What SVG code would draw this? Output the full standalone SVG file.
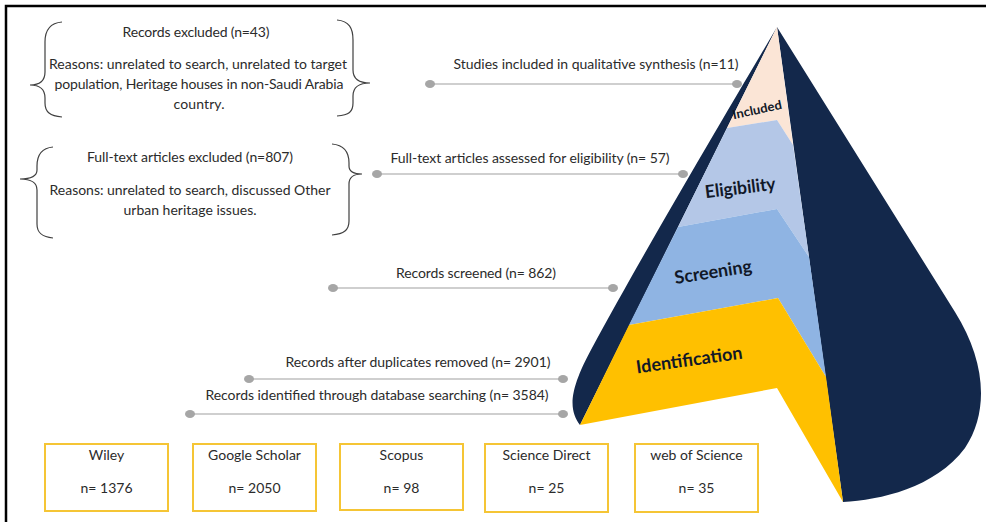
<svg xmlns="http://www.w3.org/2000/svg" width="986" height="522" viewBox="0 0 986 522">
<style>
.t{font-family:Lato,"Open Sans","Liberation Sans",sans-serif;font-size:14px;fill:#2b2b2b;text-anchor:middle}
.lbl{font-family:Lato,"Open Sans","Liberation Sans",sans-serif;font-weight:bold;fill:#111827;text-anchor:middle}
.brace{fill:none;stroke:#404040;stroke-width:1.2}
.conn{stroke:#BFBFBF;stroke-width:1.5}
.dot{fill:#A6A6A6}
.box{fill:#fff;stroke:#F5C535;stroke-width:2}
</style>
<rect width="986" height="522" fill="#fff"/>
<path d="M6,524 L6,6 L990,6" fill="none" stroke="#000" stroke-width="2.5"/>

<g id="cone">
  <path d="M777,27 C725,115 645,250 592,348 C568,392 569,410 580,425 Z" fill="#13284B"/>
  <path d="M777,27 L955,312 C985,360 990,410 965,448 C935,488 880,500 843,502 Z" fill="#13284B"/>
  <polygon points="777,27 727,128 777,120 793,145" fill="#FBE5D6"/>
  <polygon points="727,128 777,120 793,145 809,257 777,209 678,227" fill="#B4C7E7"/>
  <polygon points="678,227 777,209 809,257 826,377 778,298 629,325" fill="#8FB4E3"/>
  <polygon points="629,325 778,298 826,377 843,502 777,388 580,425" fill="#FFC000"/>
  <text class="lbl" font-size="12.5" transform="translate(758,114) rotate(-12)" textLength="50" lengthAdjust="spacingAndGlyphs">Included</text>
  <text class="lbl" font-size="18" transform="translate(741,194) rotate(-7)" textLength="71" lengthAdjust="spacingAndGlyphs">Eligibility</text>
  <text class="lbl" font-size="18" transform="translate(714,278) rotate(-9)" textLength="78" lengthAdjust="spacingAndGlyphs">Screening</text>
  <text class="lbl" font-size="18" transform="translate(690,366) rotate(-8)" textLength="107" lengthAdjust="spacingAndGlyphs">Identification</text>
</g>

<g id="excluded-records">
  <path class="brace" d="M62,22 C50,23 45,30 45,42 L45,72 C45,80 40,85 30,85 C40,85 45,90 45,98 L45,103 C45,112 50,116 62,117"/>
  <path class="brace" d="M337,20 C349,21 353,28 353,40 L353,70 C353,78 358,83 370,83 C358,83 353,88 353,96 L353,103 C353,112 349,115 337,116"/>
  <text class="t" x="196" y="37" textLength="147">Records excluded (n=43)</text>
  <text class="t" x="198" y="69" textLength="298">Reasons: unrelated to search, unrelated to target</text>
  <text class="t" x="199" y="89" textLength="289">population, Heritage houses in non-Saudi Arabia</text>
  <text class="t" x="199" y="109" textLength="51">country.</text>
</g>

<g id="excluded-fulltext">
  <path class="brace" d="M53,147 C42,148 37,155 37,166 L37,170 C37,176 32,179 20,179 C32,179 37,183 37,190 L37,224 C37,233 42,237 53,238"/>
  <path class="brace" d="M332,144 C344,145 349,152 349,163 L349,166 C349,171 353,174 362,174 C353,174 349,178 349,184 L349,221 C349,230 344,234 332,235"/>
  <text class="t" x="190" y="162" textLength="206">Full-text articles excluded (n=807)</text>
  <text class="t" x="190" y="195" textLength="281">Reasons: unrelated to search, discussed Other</text>
  <text class="t" x="190" y="215" textLength="133">urban  heritage issues.</text>
</g>

<g id="connectors">
  <line class="conn" x1="430" y1="84" x2="737" y2="84"/>
  <ellipse class="dot" cx="430" cy="84" rx="5" ry="4"/>
  <ellipse class="dot" cx="737" cy="84" rx="5" ry="4"/>
  <line class="conn" x1="377" y1="174" x2="683" y2="174"/>
  <ellipse class="dot" cx="377" cy="174" rx="5" ry="4"/>
  <ellipse class="dot" cx="683" cy="174" rx="5" ry="4"/>
  <line class="conn" x1="333" y1="288" x2="613" y2="288"/>
  <ellipse class="dot" cx="333" cy="288" rx="5" ry="4"/>
  <ellipse class="dot" cx="613" cy="288" rx="5" ry="4"/>
  <line class="conn" x1="249" y1="379" x2="563" y2="379"/>
  <ellipse class="dot" cx="249" cy="379" rx="5" ry="4"/>
  <ellipse class="dot" cx="563" cy="379" rx="5" ry="4"/>
  <line class="conn" x1="190" y1="414" x2="563" y2="414"/>
  <ellipse class="dot" cx="190" cy="414" rx="5" ry="4"/>
  <ellipse class="dot" cx="563" cy="414" rx="5" ry="4"/>
</g>

<g id="studies-included"><text class="t" x="596" y="69" textLength="285">Studies included in qualitative synthesis (n=11)</text></g>
<g id="fulltext-assessed"><text class="t" x="530" y="163" textLength="279">Full-text articles assessed for eligibility (n= 57)</text></g>
<g id="records-screened"><text class="t" x="476" y="278" textLength="160">Records screened (n= 862)</text></g>
<g id="records-after-duplicates"><text class="t" x="418" y="367" textLength="265">Records after duplicates removed (n= 2901)</text></g>
<g id="records-identified"><text class="t" x="377" y="400" textLength="343">Records identified through database searching (n= 3584)</text></g>

<g id="wiley"><rect class="box" x="45" y="444" width="123" height="67"/><text class="t" x="106.5" y="460">Wiley</text><text class="t" x="106.5" y="493">n= 1376</text></g>
<g id="google-scholar"><rect class="box" x="193" y="444" width="123" height="67"/><text class="t" x="254.5" y="460">Google Scholar</text><text class="t" x="254.5" y="493">n= 2050</text></g>
<g id="scopus"><rect class="box" x="340" y="444" width="123" height="66"/><text class="t" x="401.5" y="460">Scopus</text><text class="t" x="401.5" y="493">n= 98</text></g>
<g id="science-direct"><rect class="box" x="485" y="444" width="123" height="68"/><text class="t" x="546.5" y="460">Science Direct</text><text class="t" x="546.5" y="493">n= 25</text></g>
<g id="web-of-science"><rect class="box" x="635" y="444" width="123" height="68"/><text class="t" x="696.5" y="460">web of Science</text><text class="t" x="696.5" y="493">n= 35</text></g>
</svg>
